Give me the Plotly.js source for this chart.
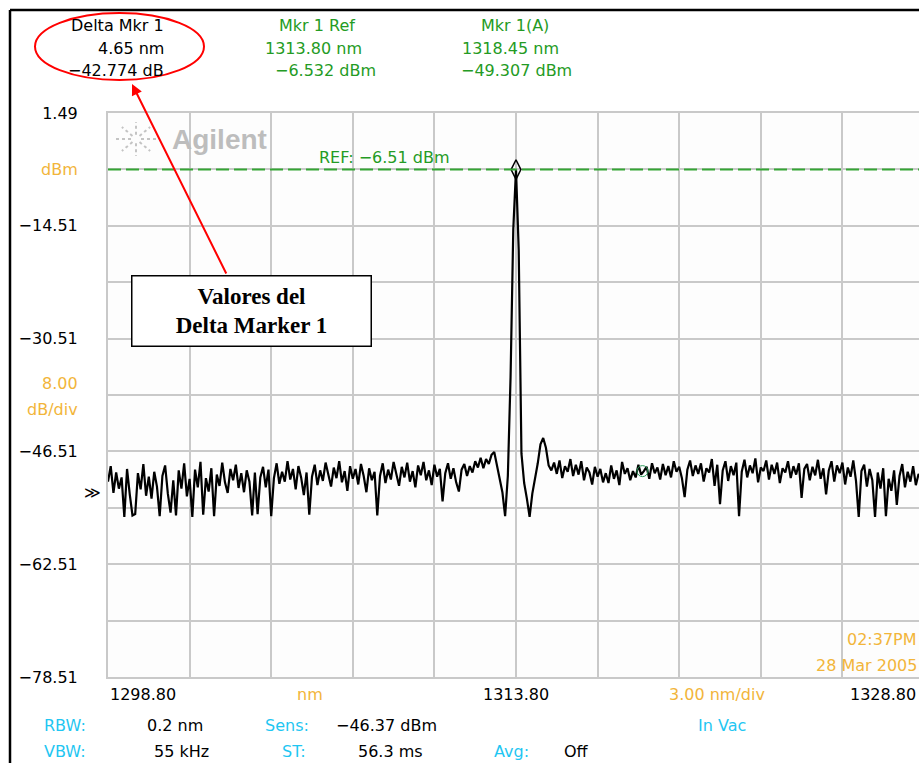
<!DOCTYPE html>
<html>
<head>
<meta charset="utf-8">
<script src="https://cdn.plot.ly/plotly-3.0.1.min.js"></script>
<style>
  html, body { margin: 0; padding: 0; background: #ffffff; }
  #chart { width: 919px; height: 763px; }
</style>
</head>
<body>
<div id="chart"></div>
<script>
// ---------------- DATA ----------------
const wavelengthStart = 1298.80;   // nm
const wavelengthStep = 0.1;        // nm per sample
const powerDbm = [
  -50.8,-48.6,-52.4,-49.5,-51.8,-50.2,-55.8,-49.0,-52.6,-55.6,
  -55.4,-49.6,-51.9,-48.3,-52.8,-50.1,-53.2,-49.4,-51.5,-55.7,
  -50.0,-48.5,-52.5,-55.2,-50.6,-55.6,-49.2,-51.8,-48.2,-52.9,
  -50.4,-55.8,-49.1,-51.6,-48.0,-55.5,-50.3,-52.2,-48.9,-55.7,
  -49.8,-51.4,-48.1,-50.9,-52.4,-49.0,-50.6,-48.4,-51.7,-49.6,
  -52.3,-49.2,-50.8,-55.6,-49.5,-55.4,-50.2,-48.7,-51.6,-49.1,
  -55.7,-50.3,-48.2,-51.1,-49.4,-50.8,-47.9,-50.5,-49.0,-51.9,
  -48.6,-50.2,-52.7,-49.5,-55.5,-50.1,-48.4,-51.3,-49.2,-50.7,
  -48.1,-49.9,-51.5,-48.8,-50.3,-47.9,-50.9,-49.3,-52.1,-48.6,
  -50.4,-49.0,-51.2,-48.3,-50.0,-52.3,-48.9,-50.6,-49.4,-55.6,
  -50.0,-48.2,-51.0,-49.1,-50.5,-48.0,-49.8,-51.4,-48.7,-50.2,
  -48.1,-50.8,-49.3,-51.6,-48.5,-49.9,-48.0,-50.6,-49.2,-51.3,
  -48.4,-50.1,-49.0,-53.6,-49.6,-48.2,-50.4,-48.9,-50.9,-52.2,
  -49.1,-48.3,-50.0,-48.6,-49.5,-47.9,-48.8,-47.4,-48.9,-47.6,
  -48.3,-47.0,-46.6,-48.5,-50.5,-52.3,-55.7,-50.0,-36.0,-15.0,
  -6.53,-18.0,-46.8,-51.0,-53.2,-55.8,-52.5,-50.5,-48.2,-45.5,
  -44.6,-46.0,-48.5,-49.2,-48.1,-49.7,-47.8,-50.3,-48.6,-49.4,
  -47.6,-50.0,-48.4,-49.8,-47.9,-50.6,-48.8,-49.5,-51.2,-48.7,
  -50.1,-49.0,-50.9,-49.6,-51.0,-48.5,-50.4,-49.2,-51.3,-48.0,
  -49.7,-48.9,-50.6,-49.3,-50.2,-48.4,-49.8,-49.3,-48.7,-50.4,
  -48.2,-49.6,-48.8,-50.5,-48.3,-49.9,-48.6,-50.2,-47.9,-49.4,
  -48.7,-50.3,-53.0,-49.1,-47.8,-50.0,-48.5,-49.7,-48.2,-50.8,
  -48.9,-49.5,-47.6,-51.4,-48.4,-54.0,-49.2,-47.9,-50.7,-48.6,
  -49.9,-48.1,-55.7,-49.4,-47.7,-50.2,-48.5,-49.6,-47.5,-50.9,
  -48.8,-49.3,-47.8,-50.5,-48.4,-49.7,-48.1,-51.0,-48.9,-49.5,
  -47.9,-50.3,-48.6,-49.8,-48.2,-53.1,-49.0,-48.3,-50.6,-48.7,
  -49.9,-47.7,-50.4,-48.9,-52.6,-49.2,-47.9,-50.8,-48.5,-49.6,
  -48.1,-51.2,-48.8,-50.1,-47.8,-50.7,-55.8,-49.3,-48.4,-51.5,
  -49.0,-50.6,-55.8,-49.5,-51.8,-48.9,-55.7,-50.4,-52.1,-49.2,
  -54.1,-50.0,-48.3,-51.6,-49.4,-50.8,-48.6,-51.3,-49.7,-50.5,
  -49.1
];
const markerNames = ["Mkr 1 Ref", "Mkr 1(A)"];
const markerWavelength = [1313.80, 1318.45];
const markerPower = [-6.532, -49.307];
const refLevel = -6.51;
const yTickVals = [1.49, -6.51, -14.51, -22.51, -30.51, -38.51, -46.51, -54.51, -62.51, -70.51, -78.51];
const yTickText = ["1.49", "<span style='color:#f2b53a'>dBm</span>", "\u221214.51", "", "\u221230.51", "", "\u221246.51", "", "\u221262.51", "", "\u221278.51"];
const xTickText = ["1298.80", "1313.80", "1328.80"];

// ---------------- LAYOUT HELPERS ----------------
const W = 919, H = 763;
const L = 108, T = 113, R = 919, B = 677;
const P = px => (px - L) / (R - L);
const Q = py => (B - py) / (B - T);
const GREEN = '#249b24', ORANGE = '#f2b53a', CYAN = '#1fc6f2', MONO = 'DejaVu Sans';

function txt(text, x, y, color, anchor, size, family, extra) {
  return Object.assign({
    text: text, xref: 'paper', yref: 'paper', x: P(x), y: Q(y),
    xanchor: anchor || 'center', yanchor: 'middle', showarrow: false,
    font: { family: family || MONO, size: size || 16, color: color || '#000' }
  }, extra || {});
}

const annotations = [
  // top readout
  txt('Delta Mkr 1', 166, 25, '#000', 'right'),
  txt('4.65 nm', 166, 48, '#000', 'right'),
  txt('\u221242.774 dB', 166, 71, '#000', 'right'),
  txt(markerNames[0], 317, 25, GREEN),
  txt(markerWavelength[0].toFixed(2) + ' nm', 313, 48, GREEN),
  txt('\u22126.532 dBm', 325, 71, GREEN),
  txt(markerNames[1], 515, 25, GREEN),
  txt(markerWavelength[1].toFixed(2) + ' nm', 510, 48, GREEN),
  txt('\u221249.307 dBm', 516, 71, GREEN),
  // logo
  txt('<b>Agilent</b>', 170, 139, '#bdbdbd', 'left', 28, 'Liberation Sans'),
  // ref label
  txt('REF: \u22126.51 dBm', 317, 157, GREEN, 'left'),
  // y scale
  txt('8.00', 80, 383, ORANGE, 'right'),
  txt('dB/div', 80, 409, ORANGE, 'right'),
  txt('\u226B', 92, 492, '#000', 'center', 16),
  // x labels
  txt(xTickText[0], 108, 694, '#000', 'left'),
  txt('nm', 310, 694, ORANGE),
  txt(xTickText[1], 516, 694, '#000'),
  txt('3.00 nm/div', 717, 694, ORANGE),
  txt(xTickText[2], 918, 694, '#000', 'right'),
  // timestamp
  txt('02:37PM', 919, 639, ORANGE, 'right'),
  txt('28 Mar 2005', 919, 665, ORANGE, 'right'),
  // bottom settings
  txt('RBW:', 65, 725, CYAN),
  txt('0.2 nm', 175, 725, '#000'),
  txt('Sens:', 287, 725, CYAN),
  txt('\u221246.37 dBm', 386, 725, '#000'),
  txt('In Vac', 722, 725, CYAN),
  txt('VBW:', 65, 752, CYAN),
  txt('55 kHz', 181, 752, '#000'),
  txt('ST:', 308, 752, CYAN, 'right'),
  txt('56.3 ms', 390, 752, '#000'),
  txt('Avg:', 511, 752, CYAN),
  txt('Off', 576, 752, '#000'),
  // callout box
  {
    text: '<b>Valores del<br>Delta Marker 1</b>', xref: 'paper', yref: 'paper',
    x: P(251.5), y: Q(311), xanchor: 'center', yanchor: 'middle', showarrow: false,
    width: 236, height: 67, borderpad: 1, bordercolor: '#000', borderwidth: 1.5,
    bgcolor: '#ffffff', align: 'center',
    font: { family: 'Liberation Serif', size: 23, color: '#000' }
  },
  // red arrow
  {
    text: '', xref: 'paper', yref: 'paper', x: P(132), y: Q(84),
    showarrow: true, axref: 'pixel', ayref: 'pixel', ax: 95, ay: 191,
    arrowhead: 2, arrowsize: 1.1, arrowwidth: 2, arrowcolor: '#ff0000', standoff: 0
  }
];

// starburst logo
const shapes = [];
const cx = 136, cy = 139;
for (let k = 0; k < 8; k++) {
  const a = k * Math.PI / 4;
  const r0 = 5, r1 = 20;
  shapes.push({
    type: 'line', xref: 'paper', yref: 'paper',
    x0: P(cx + r0 * Math.cos(a)), y0: Q(cy + r0 * 0.85 * Math.sin(a)),
    x1: P(cx + r1 * Math.cos(a)), y1: Q(cy + r1 * 0.85 * Math.sin(a)),
    line: { color: '#c4c4c4', width: 2, dash: 'dot' }
  });
}
// reference level dashed line
shapes.push({
  type: 'line', xref: 'paper', yref: 'y', x0: 0, x1: 1, y0: refLevel, y1: refLevel,
  line: { color: '#34a534', width: 2, dash: '13px,5px' }
});
// red ellipse
shapes.push({
  type: 'circle', xref: 'paper', yref: 'paper',
  x0: P(35), x1: P(204), y0: Q(13), y1: Q(80),
  line: { color: '#ff0000', width: 2 }
});
// outer frame
shapes.push({ type: 'line', xref: 'paper', yref: 'paper', x0: P(10), x1: P(925), y0: Q(10), y1: Q(10), line: { color: '#000', width: 2.5 } });
shapes.push({ type: 'line', xref: 'paper', yref: 'paper', x0: P(10), x1: P(10), y0: Q(10), y1: Q(770), line: { color: '#000', width: 2.5 } });

const traces = [
  {
    type: 'scatter', mode: 'lines', x0: wavelengthStart, dx: wavelengthStep, y: powerDbm,
    line: { color: '#000000', width: 2.2 }, hoverinfo: 'skip', cliponaxis: true
  },
  {
    type: 'scatter', mode: 'markers', x: [markerWavelength[0]], y: [markerPower[0]],
    marker: { symbol: 'diamond-tall-open', size: 14, color: '#000', line: { width: 1.5, color: '#000' } }
  },
  {
    type: 'scatter', mode: 'markers', x: [markerWavelength[1]], y: [markerPower[1]],
    marker: { symbol: 'circle-open', size: 11, color: '#2a9a5a', line: { width: 1, color: '#2a9a5a' } }
  }
];

const layout = {
  width: W, height: H,
  margin: { l: L, r: W - R, t: T, b: H - B, pad: 0 },
  paper_bgcolor: '#ffffff', plot_bgcolor: '#fdfdfd',
  showlegend: false,
  xaxis: {
    range: [wavelengthStart, wavelengthStart + (R - L) / 27.2],
    tick0: wavelengthStart, dtick: 3, showticklabels: false, ticks: '',
    showgrid: true, gridcolor: '#c9c9c9', gridwidth: 2,
    zeroline: false, showline: true, linecolor: '#c9c9c9', linewidth: 2, mirror: true
  },
  yaxis: {
    range: [-78.51, 1.49], tickmode: 'array', tickvals: yTickVals, ticktext: yTickText,
    ticks: 'outside', ticklen: 25, tickcolor: 'rgba(0,0,0,0)',
    tickfont: { family: MONO, size: 16, color: '#000' },
    showgrid: true, gridcolor: '#c9c9c9', gridwidth: 2,
    zeroline: false, showline: true, linecolor: '#c9c9c9', linewidth: 2, mirror: false
  },
  annotations: annotations,
  shapes: shapes
};

Plotly.newPlot('chart', traces, layout, { staticPlot: true, displayModeBar: false });
</script>
</body>
</html>
